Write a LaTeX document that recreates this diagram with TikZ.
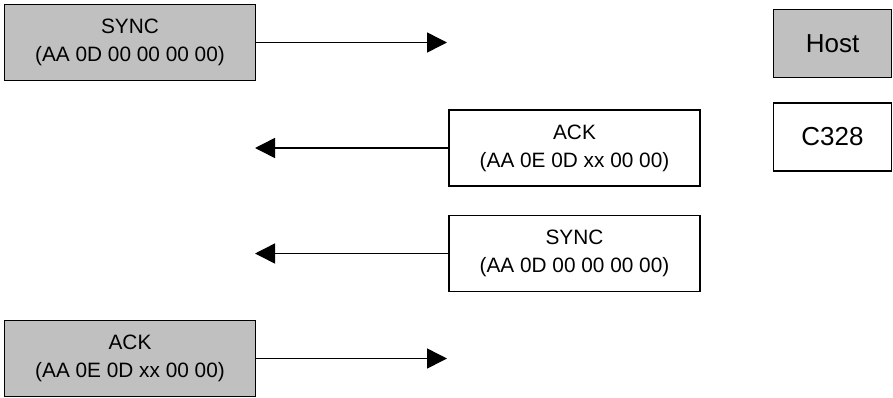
\documentclass[tikz,border=0pt]{standalone}
\usepackage{fontspec}
\setmainfont{Liberation Sans}
\usetikzlibrary{arrows.meta}
\definecolor{boxgray}{RGB}{192,192,192}
\tikzset{
  msgbox/.style={draw=black, line width=1.5pt, inner sep=0pt, minimum width=251pt, minimum height=76pt,
    align=center, font=\fontsize{20.8}{28}\selectfont},
  hostfill/.style={fill=boxgray},
  legendbox/.style={draw=black, line width=1.5pt, inner sep=0pt, minimum width=118pt, minimum height=68pt,
    font=\fontsize{26}{30}\selectfont},
  msgarrow/.style={line width=1.5pt, -{Triangle[length=20pt,width=20pt]}}
}
\begin{document}
\begin{tikzpicture}[x=1pt,y=-1pt]
\useasboundingbox (0,0) rectangle (893,397);
\node[msgbox,hostfill] (sync1) at (130,42.5) {SYNC\\(AA 0D 00 00 00 00)};
\node[msgbox] (ack1) at (574.5,148) {ACK\\(AA 0E 0D xx 00 00)};
\node[msgbox] (sync2) at (574.5,253.5) {SYNC\\(AA 0D 00 00 00 00)};
\node[msgbox,hostfill] (ack2) at (130,358.5) {ACK\\(AA 0E 0D xx 00 00)};
\node[legendbox,hostfill] (host) at (832.5,43.5) {Host};
\node[legendbox] (cam) at (832.5,137) {C328};
\coordinate (e1) at (447,42.5);
\coordinate (e2) at (255,148);
\coordinate (e3) at (255,253.5);
\coordinate (e4) at (447,358.5);
\draw[msgarrow] (sync1.east) -- (e1);
\draw[msgarrow] (ack1.west) -- (e2);
\draw[msgarrow] (sync2.west) -- (e3);
\draw[msgarrow] (ack2.east) -- (e4);
\end{tikzpicture}
\end{document}
